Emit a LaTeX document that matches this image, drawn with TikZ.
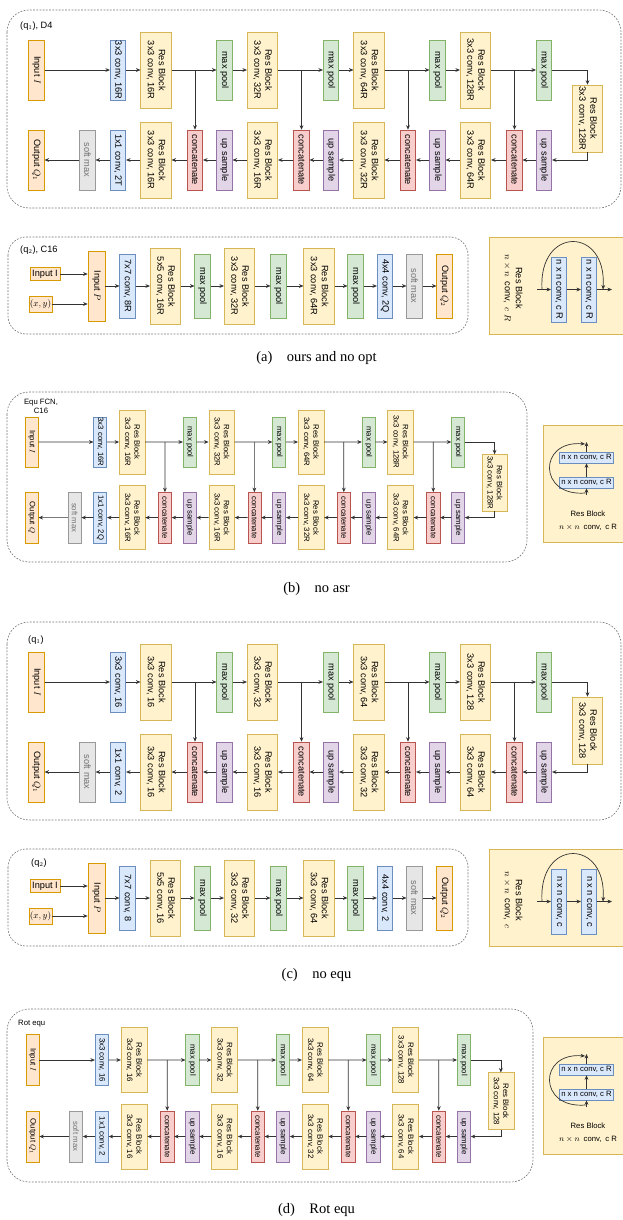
\documentclass[tikz,border=0pt]{standalone}
\usepackage{fontspec}
\setmainfont{Liberation Serif}
\setsansfont{Liberation Sans}
\usepackage{tikz}
\usetikzlibrary{arrows.meta}
\definecolor{orgfill}{HTML}{FFE6CC}
\definecolor{orgline}{HTML}{D79B00}
\definecolor{bluefill}{HTML}{DAE8FC}
\definecolor{blueline}{HTML}{6C8EBF}
\definecolor{yelfill}{HTML}{FFF2CC}
\definecolor{yelline}{HTML}{D6B656}
\definecolor{grnfill}{HTML}{D5E8D4}
\definecolor{grnline}{HTML}{82B366}
\definecolor{redfill}{HTML}{F8CECC}
\definecolor{redline}{HTML}{B85450}
\definecolor{purfill}{HTML}{E1D5E7}
\definecolor{purline}{HTML}{9673A6}
\definecolor{gryfill}{HTML}{E6E6E6}
\definecolor{gryline}{HTML}{999999}

% U-Net body, drawn in the coordinates of panel (a)
\newcommand{\unetbody}[3]{%
  \node[inbox] (in) at (36.5,70) {Input $I$};
  \node[convbox] (c3) at (118,70) {3x3 conv, 16#1};
  \foreach \i/\x/\encw/\decw in {1/156/16/16, 2/262.5/32/16, 3/369/64/32, 4/475.5/128/64} {
    \node[resbox] (r\i) at (\x,70) {Res Block\\3x3 conv, \encw#1};
    \node[poolbox] (p\i) at (\x+68.5,70) {max pool};
    \node[resbox] (d\i) at (\x,160) {Res Block\\3x3 conv, \decw#1};
    \node[catbox] (k\i) at (\x+39,160) {concatenate};
    \node[upbox] (u\i) at (\x+68.5,160) {up sample};
  }
  \node[resbox, minimum width=67pt] (rb) at (587.5,118.5) {Res Block\\3x3 conv, 128#1};
  \node[convbox] (c1) at (118,160) {1x1 conv, #2};
  \node[softbox] (sm) at (87.5,160) {soft max};
  \node[inbox] (out) at (36.5,160) {Output #3};
  \draw[flow] (in) -- (c3);
  \draw[flow] (c3) -- (r1);
  \foreach \i [evaluate=\i as \j using int(\i+1)] in {1,2,3} {
    \draw[flow] (r\i) -- (p\i);
    \draw[flow] (p\i) -- (r\j);
    \draw[flow] (u\j) -- (k\j);
    \draw[flow] (k\j) -- (d\j);
    \draw[flow] (d\j) -- (u\i);
  }
  \draw[flow] (r4) -- (p4);
  \draw[flow] (p4) -| (rb);
  \draw[flow] (rb) |- (u4);
  \draw[flow] (u1) -- (k1);
  \draw[flow] (k1) -- (d1);
  \draw[flow] (d1) -- (c1);
  \draw[flow] (c1) -- (sm);
  \draw[flow] (sm) -- (out);
  \foreach \i in {1,...,4}
    \draw[flow] (r\i -| k\i) -- (k\i);
}

% second network, row of panel (a)
\newcommand{\qtworow}[2]{%
  \node[inflat, minimum width=30pt, minimum height=13pt] (ii) at (45,274) {Input I};
  \node[inflat, minimum width=23pt, minimum height=16pt] (xy) at (40.5,304) {$(x, y)$};
  \node[inbox, minimum width=70pt, minimum height=17pt] (ip) at (96.5,286) {Input $P$};
  \node[convbox, tall] (k7) at (127.5,286) {7x7 conv, 8#1};
  \node[resbox] (q1) at (165.5,286) {Res Block\\5x5 conv, 16#1};
  \node[poolbox, tall] (m1) at (202.5,286) {max pool};
  \node[resbox] (q2) at (239.5,286) {Res Block\\3x3 conv, 32#1};
  \node[poolbox, tall] (m2) at (278.5,286) {max pool};
  \node[resbox] (q3) at (319,286) {Res Block\\3x3 conv, 64#1};
  \node[poolbox, tall] (m3) at (355.5,286) {max pool};
  \node[convbox, tall] (k4) at (385,286) {4x4 conv, 2#2};
  \node[softbox, tall] (sx) at (414.5,286) {soft max};
  \node[inbox, tall] (oq) at (444.5,286) {Output $Q_2$};
  \draw[flow] (ii) -- (ii -| ip.south);
  \draw[flow] (xy) -- (xy -| ip.south);
  \foreach \s/\t in {ip/k7, k7/q1, q1/m1, m1/q2, q2/m2, m2/q3, q3/m3, m3/k4, k4/sx, sx/oq}
    \draw[flow] (\s) -- (\t);
}

% res block legend, horizontal
\newcommand{\reslegh}[2]{%
  \draw[legbox] (489,237) rectangle (628,334);
  \node[rotate=-90, align=center] (lt) at (513,288) {Res Block\\#2};
  \node[convbox, minimum width=65pt] (n1) at (559,289.5) {n x n conv, #1};
  \node[convbox, minimum width=65pt] (n2) at (589,289.5) {n x n conv, #1};
  \coordinate (li) at (537,289.5);
  \coordinate (lo) at (612,289.5);
  \coordinate (ra) at (542,289.5);
  \coordinate (rz) at (603,289.5);
  \draw[flow] (li) -- (n1);
  \draw[flow] (n1) -- (n2);
  \draw[flow] (n2) -- (lo);
  \draw[flow] (ra) .. controls (538,226) and (607,226) .. (rz);
}

% res block legend, vertical
\newcommand{\reslegv}{%
  \draw[legbox] (543,425) rectangle (628,542);
  \node[hconv] (n1) at (586.5,457.5) {n x n conv, c R};
  \node[hconv] (n2) at (586.5,482.5) {n x n conv, c R};
  \coordinate (li) at (586.5,495);
  \coordinate (lo) at (586.5,442);
  \coordinate (ra) at (585.5,493);
  \coordinate (rz) at (585,444);
  \draw[flow] (li) -- (n2);
  \draw[flow] (n2) -- (n1);
  \draw[flow] (n1) -- (lo);
  \draw[flow] (ra) .. controls (538,497) and (538,440) .. (rz);
  \node[small] (lt) at (588,514) {Res Block};
  \node[small] (lc) at (588,527) {$n\times n$\enspace conv,\enspace c R};
}

\begin{document}
\begin{tikzpicture}[x=1pt, y=-1pt,
    font=\sffamily\fontsize{9.2}{11}\selectfont,
    blk/.style={draw, rotate=-90, align=center, inner sep=0.5pt, line width=0.6pt},
    sbox/.style={blk, minimum width=60pt, minimum height=15.5pt},
    tall/.style={minimum width=64pt},
    resbox/.style={blk, minimum width=76pt, minimum height=30.5pt, fill=yelfill, draw=yelline},
    convbox/.style={sbox, fill=bluefill, draw=blueline},
    inbox/.style={sbox, fill=orgfill, draw=orgline},
    poolbox/.style={sbox, fill=grnfill, draw=grnline},
    catbox/.style={sbox, fill=redfill, draw=redline},
    upbox/.style={sbox, fill=purfill, draw=purline},
    softbox/.style={sbox, fill=gryfill, draw=gryline, text=black!55},
    inflat/.style={draw=orgline, fill=orgfill, line width=0.6pt, inner sep=0.5pt},
    small/.style={font=\sffamily\fontsize{7.7}{9}\selectfont},
    hconv/.style={small, draw=blueline, fill=bluefill, line width=0.6pt, inner sep=0.5pt,
                  minimum width=54pt, minimum height=11pt},
    flow/.style={-{Stealth[length=4.5pt,width=3.8pt]}, draw=black!80, line width=0.7pt},
    panel/.style={draw=black!55, line width=0.6pt, dash pattern=on 1.8pt off 1.4pt, rounded corners=22pt},
    legbox/.style={fill=yelfill, draw=yelline, line width=0.6pt},
    paneltag/.style={anchor=west, inner sep=0pt},
    capt/.style={font=\rmfamily\fontsize{14.5}{16}\selectfont}]
  \useasboundingbox (0,0) rectangle (623,1220);

  % dashed frames
  \draw[panel] (7,10) rectangle (621,208);
  \draw[panel, rounded corners=18pt] (8,237) rectangle (468,334);
  \draw[panel] (7,392) rectangle (527,562);
  \draw[panel] (7,622) rectangle (621,820);
  \draw[panel, rounded corners=18pt] (8,849) rectangle (468,946);
  \draw[panel] (7,1009) rectangle (533,1182);

  \node[paneltag] (ta) at (20,26) {(q$_1$), D4};
  \node[paneltag] (ta2) at (20,250) {(q$_2$), C16};
  \node[small, align=center] (tb) at (41,406) {Equ FCN,\\C16};
  \node[paneltag] (tc) at (28,640) {(q$_1$)};
  \node[paneltag] (tc2) at (31,863) {(q$_2$)};
  \node[paneltag, small] (td) at (18,1024) {Rot equ};

  % (a) ours and no opt
  \begin{scope}[name prefix=a-]
    \unetbody{R}{2T}{$Q_1$}
    \qtworow{R}{Q}
    \reslegh{c R}{$n\times n$\enspace conv,\enspace $c\;R$}
  \end{scope}

  % (b) no asr
  \begin{scope}[shift={(1.12,383.2)}, scale=0.84, transform shape, name prefix=b-]
    \unetbody{R}{2Q}{$Q$}
  \end{scope}
  \begin{scope}[name prefix=b-]
    \reslegv
  \end{scope}

  % (c) no equ
  \begin{scope}[shift={(0,612)}, name prefix=c-]
    \unetbody{}{2}{$Q_1$}
    \qtworow{}{}
    \reslegh{c}{$n\times n$\enspace conv,\enspace $c$}
  \end{scope}

  % (d) rot equ
  \begin{scope}[shift={(1.5,1000.5)}, scale=0.85, transform shape, name prefix=d-]
    \unetbody{}{2}{$Q_1$}
  \end{scope}
  \begin{scope}[shift={(0,612)}, name prefix=d-]
    \reslegv
  \end{scope}

  \node[capt] (capa) at (316.5,358) {(a)\quad ours and no opt};
  \node[capt] (capb) at (316.5,589) {(b)\quad no asr};
  \node[capt] (capc) at (316.5,975) {(c)\quad no equ};
  \node[capt] (capd) at (316.5,1210) {(d)\quad Rot equ};
\end{tikzpicture}
\end{document}
